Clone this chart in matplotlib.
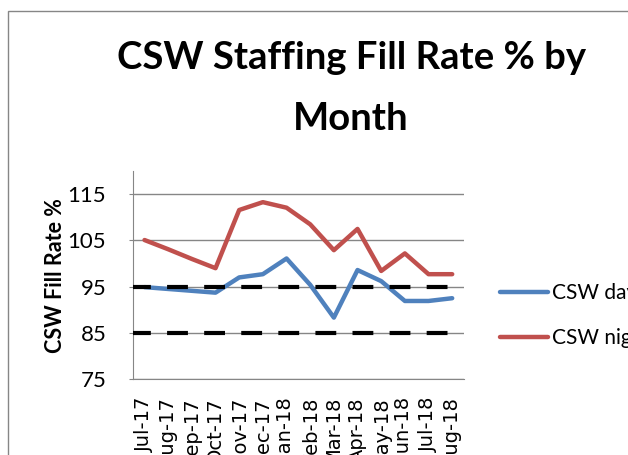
import numpy as np
import matplotlib
matplotlib.use('Agg')
import matplotlib.pyplot as plt
from matplotlib.patches import Rectangle

months = ['Jul-17', 'Aug-17', 'Sep-17', 'Oct-17', 'Nov-17', 'Dec-17', 'Jan-18',
          'Feb-18', 'Mar-18', 'Apr-18', 'May-18', 'Jun-18', 'Jul-18', 'Aug-18']
csw_day = [94.9, 94.5, 94.1, 93.7, 97.0, 97.7, 101.1,
           95.4, 88.3, 98.6, 96.2, 91.9, 91.9, 92.5]
csw_night = [105.1, 103.1, 101.0, 99.0, 111.6, 113.3, 112.1,
             108.5, 102.9, 107.5, 98.4, 102.2, 97.7, 97.7]
targets = [95, 85]
yticks = [75, 85, 95, 105, 115]

plt.rcParams['font.family'] = ['Lato', 'DejaVu Sans']

fig = plt.figure(figsize=(6.28, 4.55), dpi=100)
ax = fig.add_axes([0.2113, 0.167, 0.5276, 0.4567])

x = np.arange(len(months))
l1, = ax.plot(x, csw_day, color='#4F81BD', lw=3.2, solid_capstyle='round', label='CSW day', zorder=3)
l2, = ax.plot(x, csw_night, color='#C0504D', lw=3.2, solid_capstyle='round', label='CSW night', zorder=3)
ax.hlines(targets, -0.61, 12.91, colors='black', lw=3, linestyles=(0, (5.0, 3.9)), zorder=4)

ax.set_xlim(-0.5, len(months) - 0.5)
ax.set_ylim(75, 120)
ax.set_yticks(yticks)
ax.yaxis.grid(True, color='#868686', lw=1)
ax.set_axisbelow(True)
ax.set_xticks(x)
ax.set_xticklabels(months, rotation=90, family='DejaVu Sans', fontsize=14, va='top')
ax.tick_params(axis='x', length=0, pad=13)
ax.tick_params(axis='y', length=3, color='#868686', pad=16, labelsize=16)
for s in ['top', 'right']:
    ax.spines[s].set_visible(False)
for s in ['left', 'bottom']:
    ax.spines[s].set_color('#868686')

ax.set_ylabel('CSW Fill Rate %', fontsize=15.5, fontweight='bold')
ax.yaxis.set_label_coords(-0.201, 0.5)

fig.text(0.559, 0.8484, 'CSW Staffing Fill Rate % by', ha='center', va='baseline',
         fontsize=27.5, fontweight='bold')
fig.text(0.559, 0.7143, 'Month', ha='center', va='baseline', fontsize=27.5, fontweight='bold')

fig.legend(handles=[l1, l2], loc='center left', bbox_to_anchor=(0.796, 0.3055),
           frameon=False, fontsize=15, handlelength=2.3, handletextpad=0.2,
           labelspacing=1.2, borderpad=0, borderaxespad=0)

fig.patches.append(Rectangle((8 / 628, -0.2), 1.2, 0.9758 + 0.2, transform=fig.transFigure,
                             fill=False, edgecolor='#868686', lw=1))

fig.savefig('out.png', dpi=100)
